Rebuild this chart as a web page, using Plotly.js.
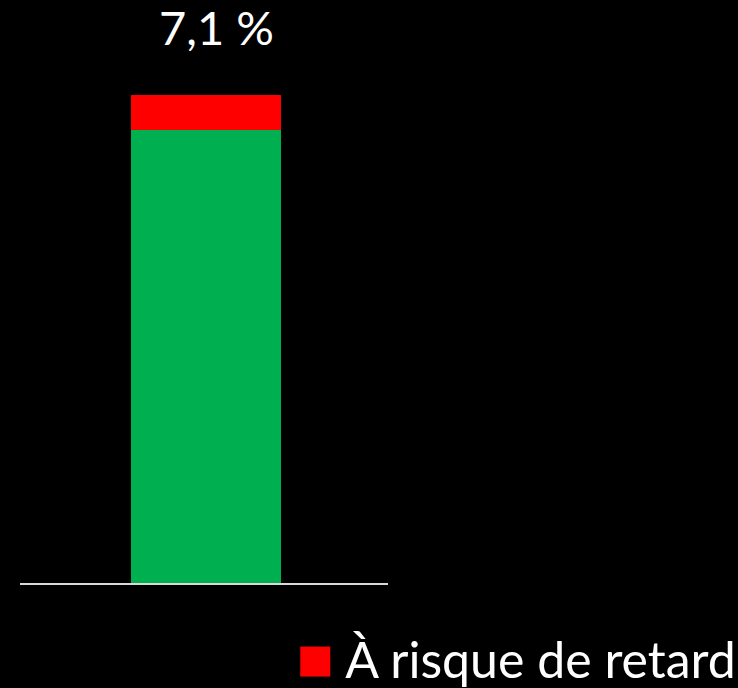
<!DOCTYPE html>
<html>
<head>
<meta charset="utf-8">
<script src="https://cdn.plot.ly/plotly-3.0.1.min.js"></script>
<style>
html,body{margin:0;padding:0;background:#000;}
</style>
</head>
<body>
<div id="chart" style="width:738px;height:688px;"></div>
<script>
const categories = ['Enfants'];
const onTrack = [92.9];
const atRisk = [7.1];
const seriesNames = ['Sans retard', 'À risque de retard'];

const traces = [
  {type: 'bar', x: categories, y: onTrack, name: seriesNames[0], marker: {color: '#00B050'}, showlegend: false, hoverinfo: 'skip'},
  {type: 'bar', x: categories, y: atRisk, name: seriesNames[1], marker: {color: '#FF0000'}, showlegend: true}
];

const total = onTrack[0] + atRisk[0];
const labelText = atRisk[0].toFixed(1).replace('.', ',') + ' %';

const layout = {
  width: 738, height: 688,
  paper_bgcolor: '#000', plot_bgcolor: '#000',
  margin: {l: 20, r: 350, t: 40, b: 105, autoexpand: false},
  barmode: 'stack',
  bargap: 0,
  showlegend: true,
  font: {family: 'Lato, "Open Sans", sans-serif', color: '#fff'},
  xaxis: {type: 'category', range: [-1.24, 1.213], showline: true, linecolor: '#d9d9d9', linewidth: 2,
          showticklabels: false, ticks: '', showgrid: false, zeroline: false, fixedrange: true, automargin: false},
  yaxis: {range: [0, 111.27], showline: false, showticklabels: false, ticks: '', showgrid: false, zeroline: false, fixedrange: true, automargin: false},
  legend: {x: 1.96, xanchor: 'right', y: -0.211, yanchor: 'bottom', font: {size: 50, color: '#fff'},
           bgcolor: 'rgba(0,0,0,0)', borderwidth: 0},
  annotations: [{x: categories[0], y: total, xref: 'x', yref: 'y', text: labelText, showarrow: false,
                 yanchor: 'bottom', yshift: 38, xshift: 10, font: {size: 47, color: '#fff', family: 'Lato, sans-serif'}}]
};

Plotly.newPlot('chart', traces, layout, {displayModeBar: false, staticPlot: true}).then(function(gd){
  gd.querySelectorAll('.legend [clip-path]').forEach(function(el){ el.removeAttribute('clip-path'); });
  const p = gd.querySelector('.legend .legendpoints path');
  const t = gd.querySelector('.legend .legendtext');
  if (!p || !t) return;
  const tr = t.getBoundingClientRect();
  const pr = p.getBoundingClientRect();
  const ctm = p.getScreenCTM();
  const cyScreen = (pr.top + pr.bottom) / 2 + 3;
  const x1s = tr.left - 15, x0s = x1s - 30;
  const x0 = x0s - ctm.e, x1 = x1s - ctm.e;
  const y0 = cyScreen - 15 - ctm.f, y1 = cyScreen + 15 - ctm.f;
  p.setAttribute('d', 'M' + x0 + ',' + y0 + 'H' + x1 + 'V' + y1 + 'H' + x0 + 'Z');
  p.style.strokeWidth = '0px';
});
</script>
</body>
</html>
